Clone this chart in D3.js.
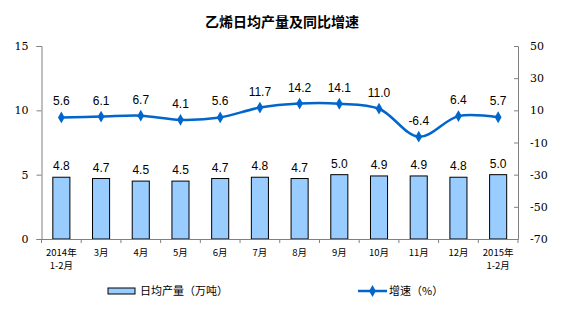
<!DOCTYPE html>
<html><head><meta charset="utf-8">
<script src="https://cdn.jsdelivr.net/npm/d3@7"></script>
<style>body{margin:0;background:#fff}</style>
</head><body><svg id="c" width="563" height="326"></svg>
<script>
const categories = [["2014年","1-2月"],["3月"],["4月"],["5月"],["6月"],["7月"],["8月"],["9月"],["10月"],["11月"],["12月"],["2015年","1-2月"]];
const output = [4.8,4.7,4.5,4.5,4.7,4.8,4.7,5.0,4.9,4.9,4.8,5.0];
const growth = [5.6,6.1,6.7,4.1,5.6,11.7,14.2,14.1,11.0,-6.4,6.4,5.7];
const leftTicks = [0,5,10,15];
const rightTicks = [-70,-50,-30,-10,10,30,50];
const title = "乙烯日均产量及同比增速";
const legendBar = "日均产量（万吨）";
const legendLine = "增速（%）";

const svg = d3.select("#c");
const L = 41.5, R = 518, T = 46, B = 239;
const x = d3.scaleBand().domain(d3.range(categories.length)).range([L, R]).paddingInner(0.57).paddingOuter(0.285);
const xc = i => x(i) + x.bandwidth()/2;
const yL = d3.scaleLinear().domain([0,15]).range([B,T]);
const yR = d3.scaleLinear().domain([-70,50]).range([B,T]);
const font = "Arial, 'Liberation Sans', sans-serif";
const cjk = "'Noto Sans CJK SC', sans-serif";

svg.append("text").attr("x",282).attr("y",27).attr("text-anchor","middle")
  .attr("font-family",cjk).attr("font-weight","bold").attr("font-size",14).text(title);

// bars
svg.selectAll("rect.bar").data(output).join("rect").attr("class","bar")
  .attr("x",(d,i)=>x(i)).attr("width",x.bandwidth())
  .attr("y",d=>yL(d)).attr("height",d=>B-yL(d))
  .attr("fill","#99CCFF").attr("stroke","#000").attr("stroke-width",1);
svg.selectAll("text.bl").data(output).join("text").attr("class","bl")
  .attr("x",(d,i)=>xc(i)).attr("y",d=>yL(d)-7).attr("text-anchor","middle")
  .attr("font-family",font).attr("font-size",12).text(d=>d.toFixed(1));

// axes
const gl = svg.append("g").attr("transform",`translate(${L},0)`)
  .call(d3.axisLeft(yL).tickValues(leftTicks).tickFormat(d=>String(d)).tickSize(5).tickPadding(8));
const gr = svg.append("g").attr("transform",`translate(${R},0)`)
  .call(d3.axisRight(yR).tickValues(rightTicks).tickFormat(d=>String(d)).tickSize(-4).tickPadding(12));
[gl,gr].forEach(g=>{
  g.select(".domain").attr("stroke","#808080");
  g.selectAll(".tick line").attr("stroke","#808080");
  g.selectAll("text").attr("font-family","'DejaVu Serif', serif").attr("font-size",11).attr("fill","#000");
});
// x axis
const xa = svg.append("g");
xa.append("line").attr("x1",L).attr("x2",R).attr("y1",B+0.5).attr("y2",B+0.5).attr("stroke","#808080");
const step = x.step();
xa.selectAll("line.t").data(d3.range(categories.length+1)).join("line").attr("class","t")
  .attr("x1",i=>L+i*step).attr("x2",i=>L+i*step).attr("y1",B).attr("y2",B+4).attr("stroke","#808080");
const labelRows = [];
categories.forEach((d,i)=>d.forEach((s,j)=>labelRows.push({i,j,s})));
xa.selectAll("text.xl").data(labelRows).join("text").attr("class","xl")
  .attr("x",d=>xc(d.i)).attr("y",d=>256+d.j*13).attr("text-anchor","middle")
  .attr("font-family",cjk).attr("font-size",9.5).text(d=>d.s);

// line
const line = d3.line().x((d,i)=>xc(i)).y(d=>yR(d)).curve(d3.curveCatmullRom.alpha(0.5));
svg.append("path").datum(growth).attr("d",line).attr("fill","none").attr("stroke","#0066CC").attr("stroke-width",2.5);
const diamond = d3.symbol().type(d3.symbolDiamond).size(40);
svg.selectAll("path.m").data(growth).join("path").attr("class","m")
  .attr("transform",(d,i)=>`translate(${xc(i)},${yR(d)})`).attr("d",diamond).attr("fill","#0066CC");
svg.selectAll("text.gl").data(growth).join("text").attr("class","gl")
  .attr("x",(d,i)=>xc(i)).attr("y",d=>yR(d)-12).attr("text-anchor","middle")
  .attr("font-family",font).attr("font-size",12).text(d=>d.toFixed(1));

// legend
svg.append("rect").attr("x",108).attr("y",288).attr("width",27).attr("height",6).attr("fill","#99CCFF").attr("stroke","#000");
svg.append("text").attr("x",140).attr("y",295).attr("font-family",cjk).attr("font-size",11).text(legendBar);
svg.append("line").attr("x1",358).attr("x2",387).attr("y1",291).attr("y2",291).attr("stroke","#0066CC").attr("stroke-width",2.5);
svg.append("path").attr("transform","translate(372.5,291)").attr("d",diamond).attr("fill","#0066CC");
svg.append("text").attr("x",389).attr("y",295).attr("font-family",cjk).attr("font-size",11).text(legendLine);
</script></body></html>
